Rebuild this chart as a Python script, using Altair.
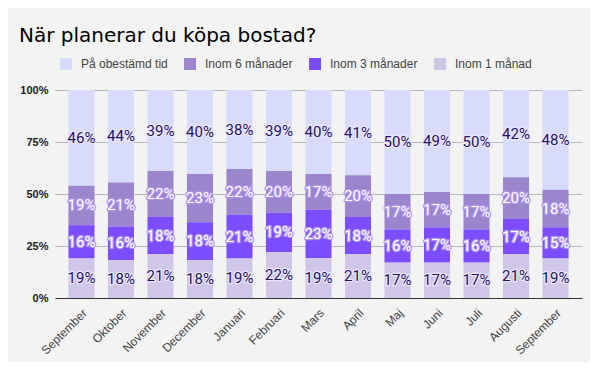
import altair as alt
import pandas as pd

months = ["September", "Oktober", "November", "December", "Januari", "Februari", "Mars",
          "April", "Maj", "Juni", "Juli", "Augusti", "September"]
series = ["På obestämd tid", "Inom 6 månader", "Inom 3 månader", "Inom 1 månad"]
obestamd = [46, 44, 39, 40, 38, 39, 40, 41, 50, 49, 50, 42, 48]
inom6 = [19, 21, 22, 23, 22, 20, 17, 20, 17, 17, 17, 20, 18]
inom3 = [16, 16, 18, 18, 21, 19, 23, 18, 16, 17, 16, 17, 15]
inom1 = [19, 18, 21, 18, 19, 22, 19, 21, 17, 17, 17, 21, 19]
colors = ["#d9dbfd", "#9b85cc", "#7c4dff", "#d0c6e8"]

values = {series[0]: obestamd, series[1]: inom6, series[2]: inom3, series[3]: inom1}
stack_rank = {series[3]: 0, series[2]: 1, series[1]: 2, series[0]: 3}
rows = []
for s in series:
    for i, v in enumerate(values[s]):
        rows.append({"idx": i, "s": s, "v": v, "rank": stack_rank[s]})
df = pd.DataFrame(rows)

label_expr = "[" + ",".join("'%s'" % m for m in months) + "][datum.value]"

base = alt.Chart(df).transform_stack(
    stack="v", groupby=["idx"], as_=["y0", "y1"], offset="normalize",
    sort=[alt.SortField("rank", order="ascending")]
).transform_calculate(
    mid="(datum.y0 + datum.y1) / 2",
    lab="format(datum.v / 100, '.0%')",
    txtcol="(datum.s == 'Inom 6 månader' || datum.s == 'Inom 3 månader') ? '#ffffff' : '#1e1262'",
    halocol="(datum.s == 'Inom 6 månader' || datum.s == 'Inom 3 månader') ? '#ad95ee' : '#ece8fc'",
)

x_enc = alt.X("idx:O", title=None,
              scale=alt.Scale(paddingInner=0.34, paddingOuter=0.34),
              axis=alt.Axis(labelExpr=label_expr, labelAngle=-45, ticks=False,
                            domainColor="#333333", domainWidth=1.2,
                            labelFont="Liberation Sans", labelFontSize=12,
                            labelColor="#444444", labelPadding=9, grid=False))

bars = base.mark_bar().encode(
    x=x_enc,
    y=alt.Y("y0:Q", title=None,
            scale=alt.Scale(domain=[0, 1]),
            axis=alt.Axis(format=".0%", values=[0, 0.25, 0.5, 0.75, 1], ticks=False,
                          domain=False, gridColor="#b8b8b8", gridWidth=1,
                          labelFont="Liberation Sans", labelFontSize=11, labelFontWeight="bold",
                          labelColor="#222222", labelPadding=7)),
    y2="y1:Q",
    color=alt.Color("s:N", title=None,
                    scale=alt.Scale(domain=series, range=colors),
                    legend=alt.Legend(orient="none", direction="horizontal", legendX=5, legendY=-32,
                                      symbolType="square", symbolSize=144, symbolStrokeWidth=0,
                                      labelFont="Liberation Sans", labelFontSize=12,
                                      labelColor="#444444", labelOffset=9, columnPadding=16)),
)

halo = base.mark_text(font="Roboto", fontSize=15, strokeWidth=2.5, strokeJoin="round",
                      baseline="middle").encode(
    x=alt.X("idx:O"),
    y=alt.Y("mid:Q"),
    text="lab:N",
    stroke=alt.Color("halocol:N", scale=None),
    fill=alt.value("transparent"),
)
labels = base.mark_text(font="Roboto", fontSize=15, baseline="middle").encode(
    x=alt.X("idx:O"),
    y=alt.Y("mid:Q"),
    text="lab:N",
    color=alt.Color("txtcol:N", scale=None),
)

chart = alt.layer(bars, halo, labels).properties(
    width=527, height=208,
    title=alt.TitleParams("När planerar du köpa bostad?", anchor="start", frame="group",
                          font="DejaVu Sans", fontSize=20, fontWeight="normal", color="#000000",
                          dx=-36, offset=12),
    autosize=alt.AutoSizeParams(type="none"),
    padding={"left": 47, "top": 82, "right": 8, "bottom": 64},
).configure(background="#f3f3f3").configure_view(stroke=None)

chart.save("out.html", embed_options={"renderer": "svg", "actions": False})
